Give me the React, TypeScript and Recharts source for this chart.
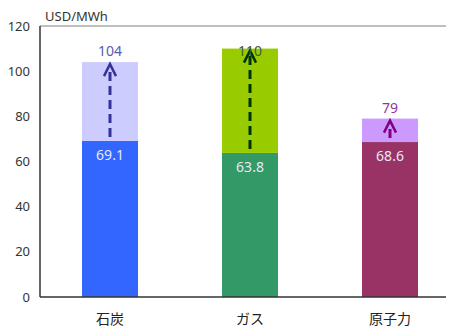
import React from 'react';
import { BarChart, Bar, XAxis, YAxis, Cell, LabelList, ReferenceLine } from 'recharts';

const categories = ['石炭', 'ガス', '原子力'];
const baseValues = [69.1, 63.8, 68.6];
const totalValues = [104, 110, 79];
const yTicks = [0, 20, 40, 60, 80, 100, 120];

const baseColors = ['#3366ff', '#339966', '#993366'];
const topColors = ['#ccccff', '#99cc00', '#cc99ff'];
const arrowColors = ['#333399', '#003300', '#800080'];
const totalLabelColors = ['#5b5bab', '#3d5c3d', '#993399'];

const data = categories.map((name, i) => ({
  name,
  base: baseValues[i],
  extra: +(totalValues[i] - baseValues[i]).toFixed(1),
  total: totalValues[i],
}));

const FONT = '"Noto Sans", "Noto Sans CJK JP", sans-serif';

const TopShape = (props: any) => {
  const { x, y, width, height, index } = props;
  const cx = x + width / 2;
  const bottom = y + height;
  const tip = y + 2;
  const labelCenter = Math.max(y - 11, 43);
  return (
    <g>
      <rect x={x} y={y} width={width} height={height} fill={topColors[index]} />
      <line x1={cx} y1={bottom - 4} x2={cx} y2={tip + 2} stroke={arrowColors[index]} strokeWidth={3} strokeDasharray="9 5" />
      <path d={`M${cx - 6},${tip + 12} L${cx},${tip} L${cx + 6},${tip + 12}`} fill="none" stroke={arrowColors[index]} strokeWidth={2.5} />
      <text x={cx} y={labelCenter + 5} textAnchor="middle" fontSize={14} fontFamily={FONT} fill={totalLabelColors[index]}>
        {data[index].total}
      </text>
    </g>
  );
};

const BaseLabel = (props: any) => {
  const { x, y, width, value } = props;
  return (
    <text x={x + width / 2} y={y + 19} textAnchor="middle" fontSize={14} fontFamily={FONT} fill="#e8e8f4">
      {value}
    </text>
  );
};

export default function App() {
  return (
    <div style={{ width: 460, overflow: 'visible' }}>
      <style>{'body{overflow:hidden;}'}</style>
      <BarChart width={452} height={319} data={data} margin={{ top: 18, right: 0, bottom: 0, left: 0 }} barSize={56} style={{ overflow: 'visible' }}>
        <ReferenceLine
          y={120}
          stroke="#aaaaaa"
          strokeWidth={1.5}
          label={{
            content: (p: any) => (
              <text x={p.viewBox.x + 5} y={p.viewBox.y - 5} fontSize={13} fontFamily={FONT} fill="#333">
                USD/MWh
              </text>
            ),
          }}
        />
        <XAxis
          dataKey="name"
          tickLine={false}
          axisLine={{ stroke: '#333', strokeWidth: 1.5 }}
          tickMargin={11}
          height={30}
          tick={{ fontSize: 14, fill: '#222', fontFamily: FONT }}
        />
        <YAxis
          domain={[0, 120]}
          ticks={yTicks}
          width={32}
          tickLine={false}
          axisLine={{ stroke: '#333', strokeWidth: 1.5 }}
          tickMargin={4}
          tick={{ fontSize: 13, fill: '#333', fontFamily: FONT }}
        />
        <Bar dataKey="base" stackId="a" isAnimationActive={false}>
          {data.map((d, i) => (
            <Cell key={d.name} fill={baseColors[i]} />
          ))}
          <LabelList dataKey="base" content={<BaseLabel />} />
        </Bar>
        <Bar dataKey="extra" stackId="a" isAnimationActive={false} shape={<TopShape />} />
      </BarChart>
    </div>
  );
}
